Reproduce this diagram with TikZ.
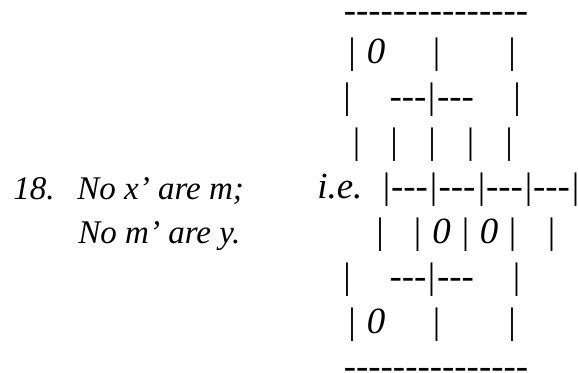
\documentclass[tikz,border=0pt]{standalone}
\usepackage{fontspec}
\setmainfont{Liberation Serif}[Ligatures=TeXOff]

\tikzset{
  glyph/.style={inner sep=0pt,anchor=base,font=\itshape\fontsize{21}{25}\selectfont},
  words/.style={inner sep=0pt,anchor=base west,font=\itshape\fontsize{18.8}{23}\selectfont}
}

\begin{document}
\begin{tikzpicture}
  \useasboundingbox (0,0) rectangle (11.56,7.44);
  % left text
  \node[words] (num) at (0.26,3.46) {18.};
  \node[words] (prem1) at (1.54,3.46) {No x’ are m;};
  \node[words] (prem2) at (1.56,2.58) {No m’ are y.};
  \node[glyph,anchor=base west] (ie) at (6.34,3.48) {i.e.};
  % top and bottom rules
  \node[glyph] (top) at (8.72,6.98) {---------------};
  \node[glyph] (bot) at (8.72,-0.13) {---------------};
  % row 1
  \node[glyph] (r1a) at (7.03,6.18) {|};
  \node[glyph] (r1z) at (7.52,6.18) {0};
  \node[glyph] (r1b) at (8.72,6.18) {|};
  \node[glyph] (r1c) at (10.23,6.18) {|};
  % row 2
  \node[glyph] (r2a) at (6.93,5.28) {|};
  \node[glyph] (r2d) at (8.16,5.28) {---};
  \node[glyph] (r2b) at (8.62,5.28) {|};
  \node[glyph] (r2e) at (9.11,5.28) {---};
  \node[glyph] (r2c) at (10.33,5.28) {|};
  % row 3
  \node[glyph] (r3a) at (7.12,4.38) {|};
  \node[glyph] (r3b) at (7.87,4.38) {|};
  \node[glyph] (r3c) at (8.63,4.38) {|};
  \node[glyph] (r3d) at (9.40,4.38) {|};
  \node[glyph] (r3e) at (10.17,4.38) {|};
  % row 4
  \node[glyph] (r4a) at (7.72,3.48) {|};
  \node[glyph] (r4f) at (8.19,3.48) {---};
  \node[glyph] (r4b) at (8.66,3.48) {|};
  \node[glyph] (r4g) at (9.14,3.48) {---};
  \node[glyph] (r4c) at (9.62,3.48) {|};
  \node[glyph] (r4h) at (10.09,3.48) {---};
  \node[glyph] (r4d) at (10.56,3.48) {|};
  \node[glyph] (r4i) at (11.03,3.48) {---};
  \node[glyph] (r4e) at (11.50,3.48) {|};
  % row 5
  \node[glyph] (r5a) at (7.59,2.58) {|};
  \node[glyph] (r5b) at (8.34,2.58) {|};
  \node[glyph] (r5y) at (8.83,2.58) {0};
  \node[glyph] (r5c) at (9.30,2.58) {|};
  \node[glyph] (r5z) at (9.78,2.58) {0};
  \node[glyph] (r5d) at (10.24,2.58) {|};
  \node[glyph] (r5e) at (11.02,2.58) {|};
  % row 6
  \node[glyph] (r6a) at (6.93,1.68) {|};
  \node[glyph] (r6d) at (8.16,1.68) {---};
  \node[glyph] (r6b) at (8.62,1.68) {|};
  \node[glyph] (r6e) at (9.11,1.68) {---};
  \node[glyph] (r6c) at (10.32,1.68) {|};
  % row 7
  \node[glyph] (r7a) at (7.03,0.78) {|};
  \node[glyph] (r7z) at (7.52,0.78) {0};
  \node[glyph] (r7b) at (8.72,0.78) {|};
  \node[glyph] (r7c) at (10.23,0.78) {|};
\end{tikzpicture}
\end{document}
